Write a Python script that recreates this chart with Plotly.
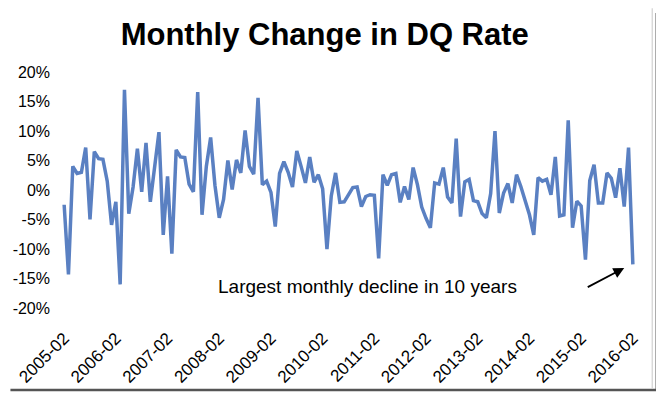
import plotly.graph_objects as go

title_text = "Monthly Change in DQ Rate"

# monthly change in delinquency rate, 2005-02 .. 2016-02 (percent)
dq_change = [
    -2.5, -14.3, 4.0, 2.8, 3.0, 7.2, -5.0, 6.5, 5.3, 5.2, 1.5, -5.9,
    -2.0, -16.0, 17.0, -4.0, 0.5, 7.0, -0.3, 8.0, -2.0, 3.5, 9.8, -7.6,
    2.3, -10.8, 6.8, 5.6, 5.5, 1.0, -0.3, 16.6, -4.2, 4.0, 8.9, 0.8,
    -4.7, -1.6, 5.0, 0.1, 5.1, 2.9, 10.1, 4.0, 2.7, 15.6, 0.9, 1.5,
    -0.4, -6.2, 2.8, 4.8, 3.0, 0.5, 6.6, 4.0, 1.2, 5.6, 1.3, 2.6,
    0.2, -10.0, -1.0, 2.9, -2.1, -2.0, -0.8, 0.4, 0.5, -2.8, -1.1, -0.8,
    -0.9, -11.6, 2.6, 0.8, 2.6, 2.8, -2.1, 0.6, -1.6, 3.8, 0.9, -2.9,
    -4.8, -6.4, 1.2, 1.0, 3.8, -1.2, -2.2, 8.7, -4.5, 1.4, 1.8, -1.8,
    -2.0, -4.0, -4.7, -0.6, 10.0, -3.9, -0.5, 1.1, -2.2, 2.6, 0.6, -1.9,
    -4.2, -7.6, 2.1, 1.5, 1.8, -0.8, 5.6, -4.4, -4.2, 11.8, -6.4, -1.9,
    -2.7, -11.8, 1.6, 4.3, -2.2, -2.2, 2.9, 2.0, -1.3, 3.7, -2.8, 7.2,
    -12.6,
]

months = []
for k in range(len(dq_change)):
    m = 2 + k
    y = 2005 + (m - 1) // 12
    mm = (m - 1) % 12 + 1
    months.append(f"{y}-{mm:02d}")

x_tick_labels = ["2005-02", "2006-02", "2007-02", "2008-02", "2009-02", "2010-02",
                 "2011-02", "2012-02", "2013-02", "2014-02", "2015-02", "2016-02"]
y_tick_vals = [20, 15, 10, 5, 0, -5, -10, -15, -20]
y_tick_labels = ["20%", "15%", "10%", "5%", "0%", "-5%", "-10%", "-15%", "-20%"]

annotation_text = "Largest monthly decline in 10 years"

idx = list(range(len(dq_change)))
tick_idx = [months.index(t) for t in x_tick_labels]

fig = go.Figure()
fig.add_trace(go.Scatter(
    x=idx, y=dq_change, mode="lines",
    line=dict(color="#5A80C2", width=3.5),
    hoverinfo="skip",
))

font_family = "Liberation Sans, Arial, sans-serif"

fig.update_layout(
    width=664, height=397,
    margin=dict(l=54, r=37, t=64, b=97, autoexpand=False),
    paper_bgcolor="white", plot_bgcolor="white",
    showlegend=False,
    title=dict(text="<b>" + title_text + "</b>", x=0.477, xanchor="center",
               y=0.935, yanchor="middle",
               font=dict(family=font_family, size=31, color="black")),
    xaxis=dict(range=[-0.5, len(dq_change) - 0.5], tickmode="array",
               tickvals=tick_idx, ticktext=x_tick_labels, tickangle=-45,
               showgrid=False, zeroline=False, showline=False, ticks="",
               ticklabelstandoff=16, automargin=False,
               tickfont=dict(family=font_family, size=17, color="black")),
    yaxis=dict(range=[-20, 20], tickmode="array", tickvals=y_tick_vals,
               ticktext=y_tick_labels, showgrid=False, zeroline=False,
               showline=False, ticks="", ticklabelstandoff=11, automargin=False,
               tickfont=dict(family=font_family, size=16, color="black")),
    annotations=[
        dict(x=70.5, y=-16.4, xref="x", yref="y", text=annotation_text,
             showarrow=False, xanchor="center", yanchor="middle",
             font=dict(family=font_family, size=19, color="black")),
        dict(x=130.0, y=-13.2, xref="x", yref="y", ax=-38, ay=20,
             text="", showarrow=True, arrowhead=2, arrowsize=1.2,
             arrowwidth=1.8, arrowcolor="black"),
    ],
    shapes=[
        dict(type="line", xref="paper", yref="paper",
             x0=1.038, x1=1.038, y0=-0.347, y1=1.25,
             line=dict(color="#555555", width=2.5)),
        dict(type="line", xref="paper", yref="paper",
             x0=-0.09, x1=1.038, y0=-0.347, y1=-0.347,
             line=dict(color="#555555", width=2.5)),
        dict(type="line", xref="paper", yref="paper",
             x0=1.030, x1=1.030, y0=-0.34, y1=1.27,
             line=dict(color="#c8c8c8", width=1)),
    ],
)

fig.write_html("out.html")
